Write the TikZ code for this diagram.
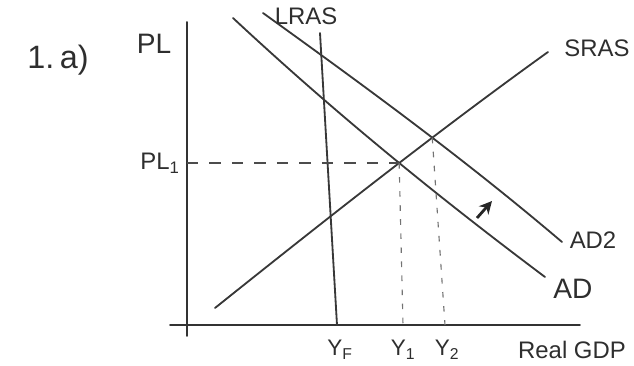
\documentclass[tikz,border=0pt]{standalone}
\usepackage{fontspec}
\setmainfont{Liberation Sans}
\usetikzlibrary{arrows.meta, positioning, intersections}

\begin{document}
\begin{tikzpicture}[x=0.025cm, y=-0.025cm,
  curve/.style={draw=black!78, line width=1.3pt, line cap=round},
  axis/.style={draw=black!80, line width=1.4pt, line cap=round},
  guide/.style={draw=black!70, line width=0.9pt, dash pattern=on 8pt off 8pt},
  drop/.style={draw=black!55, line width=0.8pt, dash pattern=on 4pt off 6pt},
  lbl/.style={inner sep=0pt, text=black!82, font=\fontsize{17}{19}\selectfont},
  arr/.style={-{Stealth[length=9pt,width=9pt]}, line width=2pt, black!85}
]
  \useasboundingbox (0,0) rectangle (634,366);
  % axes
  \coordinate (o)    at (187,325);
  \coordinate (ytop) at (187,22);
  \coordinate (ybot) at (187,336);
  \coordinate (xbeg) at (170,325);
  \coordinate (xend) at (580,325);
  \draw[axis] (ybot) -- (ytop);
  \draw[axis] (xbeg) -- (xend);
  \node[lbl,font=\fontsize{23}{25}\selectfont](qn) at (58,60) {1.\,a)};
  \node[lbl,font=\fontsize{20}{22}\selectfont](pl) at (154,44) {PL};
  \node[lbl](pl1) at (160,163) {PL\textsubscript{1}};
  % curves
  \coordinate (lras-top) at (320,33);  \coordinate (lras-bot) at (337,325);
  \coordinate (sras-bot) at (215,308); \coordinate (sras-top) at (548,52);
  \coordinate (ad-top)   at (233,18);  \coordinate (ad-bot)   at (545,277);
  \coordinate (ad2-top)  at (263,13);  \coordinate (ad2-bot)  at (562,242);
  \draw[curve] (lras-top) -- (lras-bot);
  \draw[curve,name path=sras] (sras-bot) .. controls (325,220) and (438,131) .. (sras-top);
  \draw[curve,name path=ad] (ad-top) .. controls (337,115) and (441,199) .. (ad-bot);
  \draw[curve,name path=ad2] (ad2-top) .. controls (363,85) and (462,157) .. (ad2-bot);
  \path[name intersections={of=sras and ad, by=e1}];
  \path[name intersections={of=sras and ad2, by=e2}];
  \node[lbl] (lras) at (306,16) {LRAS};
  \node[lbl] (sras) at (597,48) {SRAS};
  \node[lbl] (ad2)  at (593,240) {AD2};
  \node[lbl,font=\fontsize{20}{22}\selectfont] (ad) at (573,289) {AD};
  % equilibrium guides
  \coordinate (y1-foot) at (403,325);
  \coordinate (y2-foot) at (445,325);
  \draw[guide] (e1 -| o) -- (e1);
  \draw[drop] (e1) -- (y1-foot);
  \draw[drop] (e2) -- (y2-foot);
  \coordinate (shift-a) at (477,218);
  \coordinate (shift-b) at (492,201);
  \draw[arr] (shift-a) -- (shift-b);
  % output labels
  \node[lbl,font=\fontsize{16}{18}\selectfont] (yf) at (340,350) {Y\textsubscript{F}};
  \node[lbl,font=\fontsize{16}{18}\selectfont] (y1) at (403,350) {Y\textsubscript{1}};
  \node[lbl,font=\fontsize{16}{18}\selectfont] (y2) at (447,350) {Y\textsubscript{2}};
  \node[lbl,font=\fontsize{17}{19}\selectfont] (gdp) at (572,350) {Real GDP};
\end{tikzpicture}
\end{document}
